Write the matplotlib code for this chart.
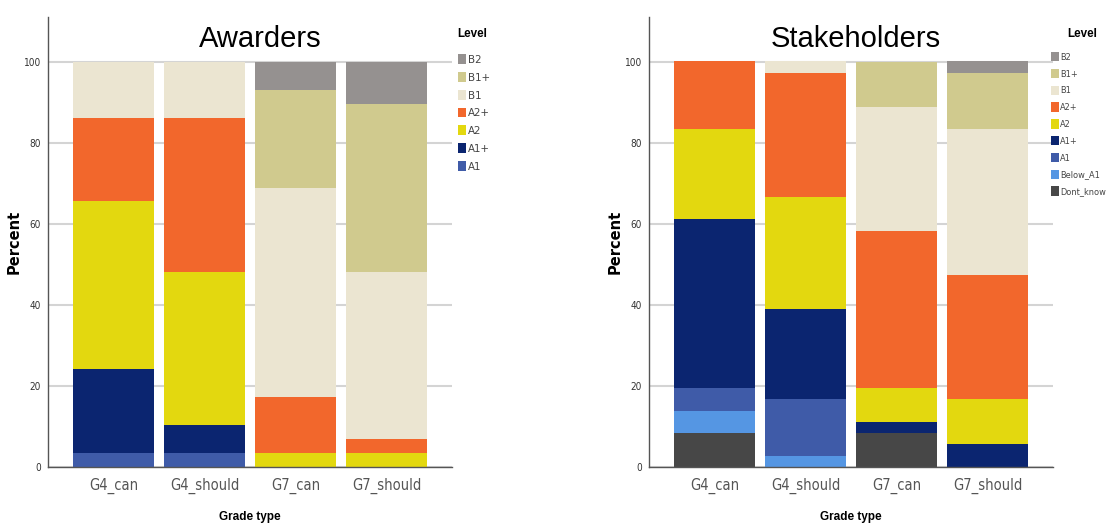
import matplotlib
matplotlib.use('Agg')
import matplotlib.pyplot as plt
from matplotlib import font_manager as fm
import numpy as np

plt.rcParams['font.family'] = ['Liberation Sans', 'DejaVu Sans']

grade_types = ['G4_can', 'G4_should', 'G7_can', 'G7_should']

# Awarders, percent per level (order of categories as grade_types)
aw_levels = ['A1', 'A1+', 'A2', 'A2+', 'B1', 'B1+', 'B2']
aw_A1 = [3.4, 3.4, 0, 0]
aw_A1p = [20.7, 6.9, 0, 0]
aw_A2 = [41.4, 37.9, 3.4, 3.4]
aw_A2p = [20.7, 37.9, 13.8, 3.4]
aw_B1 = [13.8, 13.8, 51.7, 41.4]
aw_B1p = [0, 0, 24.1, 41.4]
aw_B2 = [0, 0, 6.9, 10.3]

# Stakeholders, percent per level
st_levels = ['Dont_know', 'Below_A1', 'A1', 'A1+', 'A2', 'A2+', 'B1', 'B1+', 'B2']
st_DK = [8.3, 0, 8.3, 0]
st_BA1 = [5.6, 2.8, 0, 0]
st_A1 = [5.6, 13.9, 0, 0]
st_A1p = [41.7, 22.2, 2.8, 5.6]
st_A2 = [22.2, 27.8, 8.3, 11.1]
st_A2p = [16.7, 30.6, 38.9, 30.6]
st_B1 = [0, 2.8, 30.6, 36.1]
st_B1p = [0, 0, 11.1, 13.9]
st_B2 = [0, 0, 0, 2.8]

colors = {
    'B2': '#959190',
    'B1+': '#d0ca8e',
    'B1': '#ebe5d1',
    'A2+': '#f2672c',
    'A2': '#e3d80f',
    'A1+': '#0b2570',
    'A1': '#3f5ba8',
    'Below_A1': '#5596e3',
    'Dont_know': '#474747',
}


def find_condensed(bold=False):
    # look for a narrow / condensed face, fall back to None
    best = None
    for f in fm.fontManager.ttflist:
        is_bold = f.weight in ('bold', 700, 'heavy', 800)
        if is_bold != bold or f.style != 'normal':
            continue
        narrow = 'Narrow' in f.name or f.stretch in ('condensed', 'semi-condensed')
        if not narrow:
            continue
        if 'Liberation' in f.name:
            return f.fname
        if best is None:
            best = f.fname
    return best


COND = find_condensed(False)
COND_B = find_condensed(True)


def fp(size, bold=False):
    path = COND_B if bold else COND
    if path:
        return fm.FontProperties(fname=path, size=size)
    return fm.FontProperties(family='Liberation Sans', size=size * 0.88,
                             weight='bold' if bold else 'normal')


def draw_panel(ax, title, title_x, levels, series, leg_x, leg_y, level_x,
               leg_size, text_pad):
    x = np.arange(len(grade_types))
    bottom = np.zeros(len(grade_types))
    handles = []
    for lev, vals in zip(levels, series):
        vals = np.array(vals, dtype=float)
        b = ax.bar(x, vals, 0.9, bottom=bottom, color=colors[lev],
                   edgecolor='none', linewidth=0, zorder=2, label=lev)
        handles.append(b)
        bottom += vals

    ax.set_xlim(-0.72, 3.72)
    ax.set_ylim(0, 111)
    ax.set_yticks([0, 20, 40, 60, 80, 100])
    ax.yaxis.grid(True, color='#d4d4d4', linewidth=1.5, zorder=0)
    ax.set_axisbelow(True)
    for s in ['top', 'right']:
        ax.spines[s].set_visible(False)
    for s in ['left', 'bottom']:
        ax.spines[s].set_color('#555555')
        ax.spines[s].set_linewidth(1.0)
    ax.tick_params(axis='y', length=0, pad=5, labelcolor='#333333')
    ax.tick_params(axis='x', length=0, pad=8, labelcolor='#555555')
    ax.set_xticks(x)
    ax.set_xticklabels(grade_types)
    for t in ax.get_yticklabels():
        t.set_fontproperties(fp(7.2))
    for t in ax.get_xticklabels():
        t.set_fontproperties(fp(10.5))

    ax.set_ylabel('Percent', fontsize=10.5, fontweight='bold', family='DejaVu Sans')
    ax.yaxis.set_label_coords(-0.066, 0.5)
    ax.set_xlabel('Grade type', fontsize=8.5, fontweight='bold',
                  family='Liberation Sans')
    ax.xaxis.set_label_coords(0.5, -0.098)

    ax.text(title_x, 105.5, title, transform=ax.get_yaxis_transform(),
            ha='center', va='center', fontsize=21, zorder=5,
            bbox=dict(facecolor='white', edgecolor='none', pad=2))

    ax.text(level_x, 0.963, 'Level', transform=ax.transAxes, ha='left', va='center',
            fontsize=8.4, fontweight='bold', family='Liberation Sans')

    px = leg_size * 100 / 72
    leg = ax.legend(handles[::-1], levels[::-1],
                    loc='upper left', bbox_to_anchor=(leg_x, leg_y),
                    frameon=False,
                    handlelength=8 / px, handleheight=11 / px,
                    handletextpad=text_pad / px,
                    labelspacing=7.0 / px, borderaxespad=0, borderpad=0,
                    prop=fp(leg_size))
    for t in leg.get_texts():
        t.set_color('#444444')
    return leg


fig = plt.figure(figsize=(11.09, 5.24), dpi=100)
ax1 = fig.add_axes([48 / 1109, 57 / 524, 404 / 1109, 450 / 524])
ax2 = fig.add_axes([649 / 1109, 57 / 524, 404 / 1109, 450 / 524])

draw_panel(ax1, 'Awarders', 0.525, aw_levels,
           [aw_A1, aw_A1p, aw_A2, aw_A2p, aw_B1, aw_B1p, aw_B2],
           1.0149, 0.918, 1.012, 8.2, 2)
draw_panel(ax2, 'Stakeholders', 0.512, st_levels,
           [st_DK, st_BA1, st_A1, st_A1p, st_A2, st_A2p, st_B1, st_B1p, st_B2],
           0.995, 0.922, 1.035, 6.6, 1)

fig.savefig('out.png', dpi=100, facecolor='white')
